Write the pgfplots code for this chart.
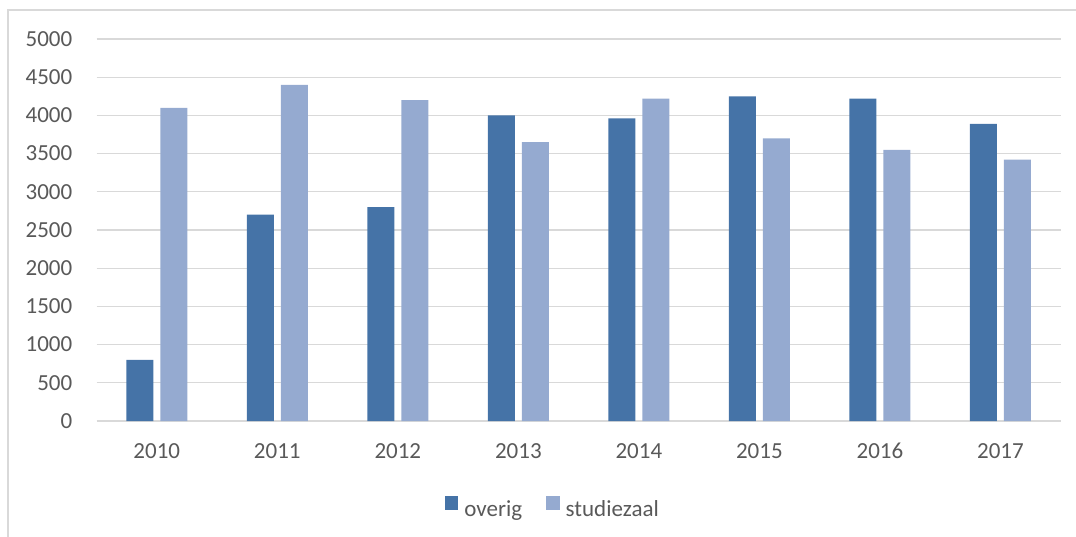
\documentclass[border=0pt]{standalone}
\usepackage{pgfplots}
\pgfplotsset{compat=1.18}
\usepackage{fontspec}
\setmainfont{Carlito}
\definecolor{gridc}{HTML}{D9D9D9}
\definecolor{txt}{HTML}{595959}
\definecolor{cA}{HTML}{4573A7}
\definecolor{cB}{HTML}{95AAD0}
\pgfplotstableread{
x overig studiezaal
0 800 4100
1 2700 4400
2 2800 4200
3 4000 3650
4 3960 4220
5 4250 3700
6 4220 3550
7 3890 3420
}\datatable
\begin{document}
\begin{tikzpicture}
\useasboundingbox (0,0) rectangle (1076pt,536pt);
\draw[gridc, line width=1.3pt] (8pt,-20pt) -- (8pt,526pt) -- (1100pt,526pt);
\begin{axis}[
  at={(96.5pt,115pt)}, anchor=south west,
  scale only axis, width=964.2pt, height=382pt,
  xmin=-0.5, xmax=7.5, ymin=0, ymax=5000,
  xtick=data, xticklabels={2010,2011,2012,2013,2014,2015,2016,2017},
  ytick={0,500,...,5000},
  ymajorgrids, major grid style={gridc, line width=1.3pt},
  x axis line style={draw=none}, y axis line style={draw=none},
  major tick length=0pt,
  /pgf/number format/1000 sep={},
  /pgf/number format/assume math mode=true,
  tick label style={font=\fontsize{23}{27}\selectfont, text=txt, inner sep=0pt},
  xticklabel style={anchor=north, yshift=-22pt},
  yticklabel style={anchor=east, xshift=-24pt},
  ybar, bar width=27pt,
  legend columns=2,
  legend style={draw=none, fill=none, inner sep=0pt, outer sep=0pt,
    at={(0.3614,-0.2257)}, anchor=west,
    nodes={inner sep=0pt, text=txt, font=\fontsize{23}{27}\selectfont},
    /tikz/every odd column/.append style={column sep=6pt},
    /tikz/every even column/.append style={column sep=24pt}},
  legend image code/.code={\fill[#1] (0pt,-0.7pt) rectangle (13.5pt,12.8pt);},
]
\addplot[fill=cA, draw=none, bar shift=-17pt] table[x=x, y=overig] {\datatable};
\addlegendentry{overig}
\addplot[fill=cB, draw=none, bar shift=17pt] table[x=x, y=studiezaal] {\datatable};
\addlegendentry{studiezaal}
\end{axis}
\end{tikzpicture}
\end{document}
